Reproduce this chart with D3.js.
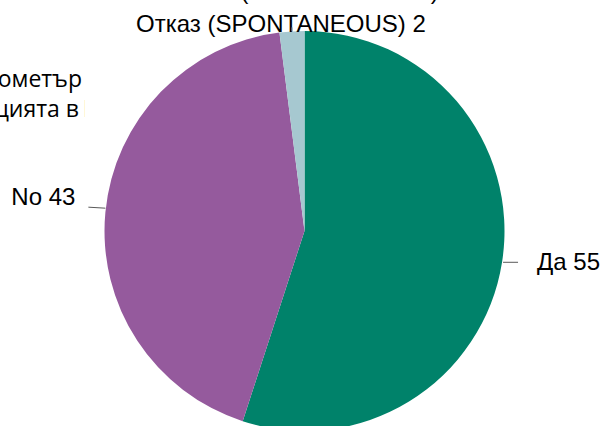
<!DOCTYPE html>
<html>
<head>
<meta charset="utf-8">
<script src="https://cdn.jsdelivr.net/npm/d3@7/dist/d3.min.js"></script>
<style>
  html, body { margin: 0; padding: 0; background: #fff; }
  svg { display: block; }
</style>
</head>
<body>
<svg id="chart" width="603" height="426"></svg>
<script>
const categories = ["Да", "No", "Отказ (SPONTANEOUS)", "Не знам (SPONTANEOUS)"];
const values = [55, 43, 2, 0];
const colors = ["#00826a", "#955a9d", "#a6c8d0", "#d9d9d9"];
const titleLines = ["Евробарометър", "ситуацията в", "ЕС"];

const W = 603, H = 426;
const cx = 304.5, cy = 231, R = 200;
const svg = d3.select("#chart");

// Title (clipped at the right edge of its box)
svg.append("clipPath").attr("id", "titleClip")
  .append("rect").attr("x", 0).attr("y", 0).attr("width", 85).attr("height", 140);
const tg = svg.append("g").attr("clip-path", "url(#titleClip)")
  .style("font-family", "'Open Sans', sans-serif").style("font-size", "23px").attr("fill", "#000");
tg.append("text").attr("x", 82).attr("y", 87).attr("text-anchor", "end").text(titleLines[0]);
tg.append("text").attr("x", 79).attr("y", 117).attr("text-anchor", "end").text(titleLines[1]);
tg.append("text").attr("x", 83).attr("y", 117).attr("text-anchor", "start").text(titleLines[2]);

const data = categories.map((c, i) => ({ cat: c, val: values[i], color: colors[i] }));
const pie = d3.pie().sort(null).value(d => d.val);
const arcs = pie(data);
const arc = d3.arc().innerRadius(0).outerRadius(R);

const g = svg.append("g").attr("transform", `translate(${cx},${cy})`);
g.selectAll("path").data(arcs.filter(a => a.data.val > 0)).join("path")
  .attr("d", arc).attr("fill", d => d.data.color);

const labelFont = "'Liberation Sans', Arial, sans-serif";
const lg = svg.append("g").style("font-family", labelFont).style("font-size", "24px").attr("fill", "#000");

arcs.forEach((a, i) => {
  const mid = (a.startAngle + a.endAngle) / 2;
  const ex = cx + R * Math.sin(mid);
  const ey = cy - R * Math.cos(mid);
  const label = `${a.data.cat} ${a.data.val}`;
  if (i === 0) {
    svg.append("line").attr("x1", ex + 1).attr("y1", ey).attr("x2", ex + 16).attr("y2", ey)
      .attr("stroke", "#595959").attr("stroke-width", 1);
    lg.append("text").attr("x", ex + 35).attr("y", ey + 8).text(label);
  } else if (i === 1) {
    svg.append("line").attr("x1", ex).attr("y1", ey - 4).attr("x2", ex - 17).attr("y2", ey - 5)
      .attr("stroke", "#595959").attr("stroke-width", 1);
    lg.append("text").attr("x", ex - 30).attr("y", ey - 7).attr("text-anchor", "end").text(label);
  } else if (i === 2) {
    svg.append("line").attr("x1", ex).attr("y1", ey).attr("x2", ex).attr("y2", ey - 4)
      .attr("stroke", "#7f7f7f").attr("stroke-width", 1);
    lg.append("text").attr("x", ex - 11).attr("y", ey + 1).attr("text-anchor", "middle").text(label);
  } else {
    lg.append("text").attr("x", ex - 4).attr("y", ey - 32).attr("text-anchor", "middle").text(label);
  }
});
</script>
</body>
</html>
